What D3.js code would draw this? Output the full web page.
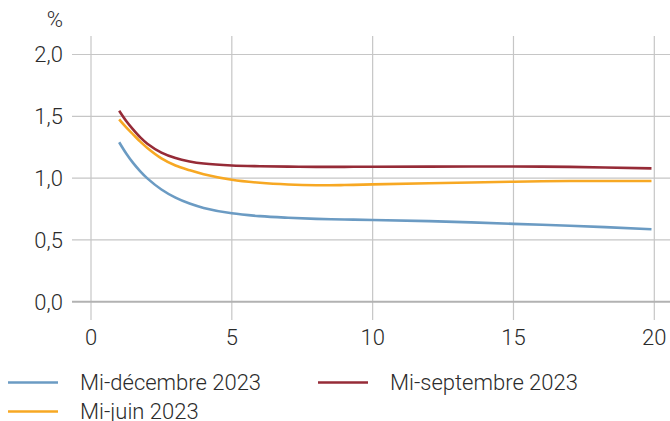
<!DOCTYPE html>
<html>
<head>
<meta charset="utf-8">
<script src="https://cdn.jsdelivr.net/npm/d3@7"></script>
<style>
  html, body { margin: 0; padding: 0; background: #fff; }
  svg { display: block; font-family: Roboto, "Liberation Sans", sans-serif; font-weight: 300; }
</style>
</head>
<body>
<svg id="chart" width="670" height="421"></svg>
<script>
// Maturity in years
const maturities = [1, 1.25, 1.5, 1.75, 2, 2.5, 3, 3.5, 4, 5, 6, 7, 8, 9, 10, 12, 15, 17, 19.9];

// Yield curves, %
const decembre  = [1.290, 1.199, 1.121, 1.055, 0.998, 0.908, 0.842, 0.794, 0.759, 0.715, 0.692, 0.679, 0.670, 0.665, 0.661, 0.652, 0.630, 0.615, 0.586];
const juin      = [1.475, 1.410, 1.352, 1.295, 1.244, 1.160, 1.102, 1.064, 1.032, 0.987, 0.962, 0.948, 0.942, 0.944, 0.949, 0.958, 0.971, 0.976, 0.977];
const septembre = [1.545, 1.462, 1.392, 1.329, 1.278, 1.206, 1.162, 1.135, 1.118, 1.102, 1.096, 1.093, 1.091, 1.091, 1.092, 1.093, 1.094, 1.091, 1.079];

const xTicks = [0, 5, 10, 15, 20];
const yTicks = [0, 0.5, 1.0, 1.5, 2.0];

const series = [
  { name: "Mi-décembre 2023", values: decembre, color: "#6b9bc3" },
  { name: "Mi-septembre 2023", values: septembre, color: "#962b37" },
  { name: "Mi-juin 2023", values: juin, color: "#f7a823" }
];

const svg = d3.select("#chart");
const x = d3.scaleLinear().domain([0, 20]).range([91, 654.3]);
const y = d3.scaleLinear().domain([0, 2]).range([301.7, 54.5]);

const textColor = "#2b2b2b";
const fontSize = 22;

// Horizontal grid
svg.append("g")
  .selectAll("line")
  .data(yTicks.filter(d => d !== 0))
  .join("line")
  .attr("x1", 72).attr("x2", 670)
  .attr("y1", d => y(d)).attr("y2", d => y(d))
  .attr("stroke", "#c6c6c6").attr("stroke-width", 1.2);

// Vertical grid, extended below the baseline as ticks
svg.append("g")
  .selectAll("line")
  .data(xTicks)
  .join("line")
  .attr("x1", d => x(d)).attr("x2", d => x(d))
  .attr("y1", 36).attr("y2", 320)
  .attr("stroke", "#c6c6c6").attr("stroke-width", 1.2);

// Zero line
svg.append("line")
  .attr("x1", 72).attr("x2", 670)
  .attr("y1", y(0)).attr("y2", y(0))
  .attr("stroke", "#b2b2b2").attr("stroke-width", 2);

// Y tick labels
const fmt = d => d3.format(".1f")(d).replace(".", ",");
svg.append("g")
  .selectAll("text")
  .data(yTicks)
  .join("text")
  .attr("x", 63).attr("y", d => y(d))
  .attr("dy", "0.36em")
  .attr("text-anchor", "end")
  .attr("font-size", fontSize)
  .attr("fill", textColor)
  .text(fmt);

// Unit
svg.append("text")
  .attr("x", 63).attr("y", 27)
  .attr("text-anchor", "end")
  .attr("font-size", fontSize)
  .attr("fill", textColor)
  .text("%");

// X tick labels
svg.append("g")
  .selectAll("text")
  .data(xTicks)
  .join("text")
  .attr("x", d => x(d)).attr("y", 345)
  .attr("text-anchor", "middle")
  .attr("font-size", fontSize)
  .attr("fill", textColor)
  .text(d => d);

// Curves
const line = d3.line()
  .x((d, i) => x(maturities[i]))
  .y(d => y(d))
  .curve(d3.curveCatmullRom.alpha(0.5));

svg.append("g")
  .selectAll("path")
  .data(series)
  .join("path")
  .attr("d", s => line(s.values))
  .attr("fill", "none")
  .attr("stroke", s => s.color)
  .attr("stroke-width", 2.6);

// Legend
const legendPos = [
  { lx: 8, ly: 382.5 },
  { lx: 318, ly: 382.5 },
  { lx: 8, ly: 411.5 }
];
const lg = svg.append("g")
  .selectAll("g")
  .data(series)
  .join("g")
  .attr("transform", (s, i) => `translate(${legendPos[i].lx},${legendPos[i].ly})`);
lg.append("line")
  .attr("x1", 0).attr("x2", 50)
  .attr("stroke", s => s.color)
  .attr("stroke-width", 2.6);
lg.append("text")
  .attr("x", 72).attr("y", 0)
  .attr("dy", "0.36em")
  .attr("font-size", fontSize)
  .attr("fill", textColor)
  .text(s => s.name);
</script>
</body>
</html>
